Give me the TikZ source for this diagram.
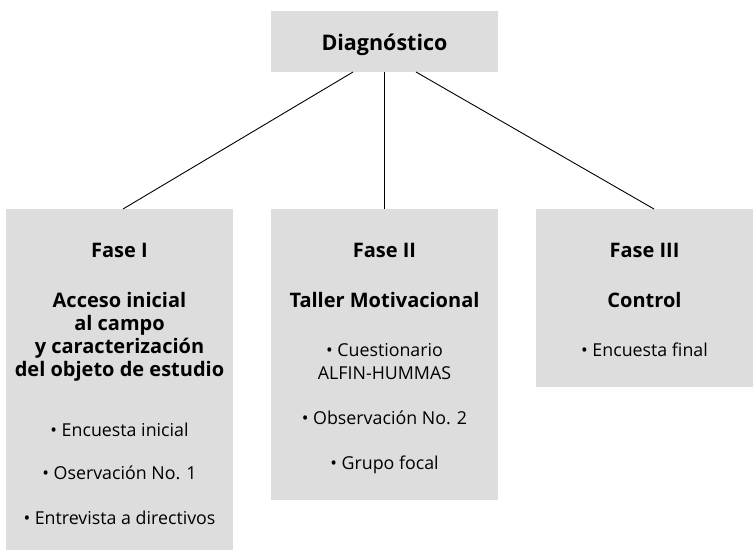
\documentclass[tikz,border=0pt]{standalone}
\usepackage{fontspec}
\setmainfont{Open Sans}
\definecolor{boxgray}{HTML}{DDDDDD}
\begin{document}
\begin{tikzpicture}[x=1pt,y=-1pt,
  box/.style={fill=boxgray, draw=none, inner sep=0pt, outer sep=0pt, anchor=north west},
  top/.style={font=\fontsize{21.5}{26}\selectfont\bfseries, anchor=base, inner sep=0pt},
  hd/.style={font=\fontsize{20}{24}\selectfont\bfseries, anchor=base, inner sep=0pt},
  itm/.style={font=\fontsize{17.8}{22}\selectfont, anchor=base, inner sep=0pt},
  link/.style={line width=0.9pt, black}]
\useasboundingbox (0,0) rectangle (753,550);
% boxes
\node[box, minimum width=227pt, minimum height=61pt] (diag) at (271,11) {};
\node[box, minimum width=227pt, minimum height=341pt] (f1) at (6,209) {};
\node[box, minimum width=227pt, minimum height=291pt] (f2) at (271,209) {};
\node[box, minimum width=217pt, minimum height=178pt] (f3) at (536,209) {};
% connector end points
\coordinate (dl) at (353,72);
\coordinate (dr) at (416,72);
\coordinate (e1) at (123,209);
\coordinate (e3) at (654,209);
\draw[link] (dl) -- (e1);
\draw[link] (diag.south) -- (f2.north);
\draw[link] (dr) -- (e3);
% texts
\node[top] (tdiag) at (384.5,50.5) {Diagnóstico};
% Fase I
\node[hd] (a1) at (119.5,257) {Fase I};
\node[hd] (a2) at (119.5,307) {Acceso inicial};
\node[hd] (a3) at (119.5,330) {al campo};
\node[hd] (a4) at (119.5,353) {y caracterización};
\node[hd] (a5) at (119.5,376.5) {del objeto de estudio};
\node[itm] (a6) at (119.5,436) {• Encuesta inicial};
\node[itm] (a7) at (119.5,479.5) {• Oservación No. 1};
\node[itm] (a8) at (119.5,524.5) {• Entrevista a directivos};
% Fase II
\node[hd] (b1) at (384.5,257) {Fase II};
\node[hd] (b2) at (384.5,307) {Taller Motivacional};
\node[itm] (b3) at (384.5,356.5) {• Cuestionario};
\node[itm] (b4) at (384.5,379) {ALFIN-HUMMAS};
\node[itm] (b5) at (384.5,424) {• Observación No. 2};
\node[itm] (b6) at (384.5,469) {• Grupo focal};
% Fase III
\node[hd] (c1) at (644.5,257) {Fase III};
\node[hd] (c2) at (644.5,307) {Control};
\node[itm] (c3) at (644.5,356.5) {• Encuesta final};
\end{tikzpicture}
\end{document}
